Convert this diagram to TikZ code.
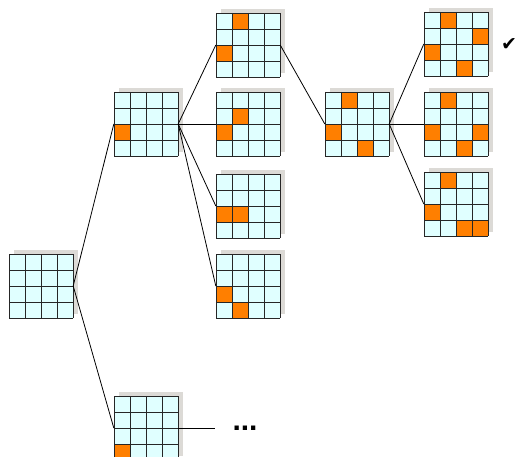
\documentclass[tikz,border=0pt]{standalone}
\usepackage{fontspec}
\newfontfamily\symfont{DejaVu Sans}
\newfontfamily\dotfont{Liberation Sans}
\definecolor{cellblue}{HTML}{E0FFFF}
\definecolor{queenorange}{HTML}{FF7F00}
\definecolor{shadowgray}{HTML}{DCDAD6}
\tikzset{
  board/.style={minimum size=64pt, inner sep=0pt, fill=cellblue},
  boardshadow/.style={fill=shadowgray},
  queen/.style={fill=queenorange},
  gridline/.style={line width=0.9pt, black!85},
  edge/.style={line width=0.8pt, black}
}
% one 4x4 board: name, left, top, queens as col/row
\newcommand{\qboard}[4]{%
  \fill[boardshadow] (#2+5,#3-4) rectangle ++(64,64);
  \node[board] (#1) at (#2+32,#3+32) {};
  \def\qlist{#4}%
  \ifx\qlist\empty\else
    \foreach \c/\r in {#4} \fill[queen] (#2+16*\c,#3+16*\r) rectangle ++(16,16);
  \fi
  \foreach \k in {0,16,...,64} {
    \draw[gridline] (#2+\k,#3) -- ++(0,64);
    \draw[gridline] (#2,#3+\k) -- ++(64,0);
  }
}
\begin{document}
\begin{tikzpicture}[x=1pt,y=-1pt]
    \useasboundingbox (0,0) rectangle (516,457);
    \clip (0,0) rectangle (516,457);
    % empty board
    \qboard{start}{9}{254}{}
    % first queen
    \qboard{one}{114}{92}{0/2}
    \qboard{onelow}{114}{396}{0/3}
    % second queen
    \qboard{twoa}{216}{13}{1/0,0/2}
    \qboard{twob}{216}{92}{1/1,0/2}
    \qboard{twoc}{216}{174}{0/2,1/2}
    \qboard{twod}{216}{254}{0/2,1/3}
    % third queen
    \qboard{three}{325}{92}{1/0,0/2,2/3}
    % fourth queen
    \qboard{foura}{424}{12}{1/0,3/1,0/2,2/3}
    \qboard{fourb}{424}{92}{1/0,0/2,3/2,2/3}
    \qboard{fourc}{424}{172}{1/0,0/2,2/3,3/3}
    % branches
    \draw[edge] (start.east) -- (one.west);
    \draw[edge] (start.east) -- (onelow.west);
    \foreach \n in {twoa,twob,twoc,twod}
        \draw[edge] (one.east) -- (\n.west);
    \draw[edge] (twoa.east) -- (three.west);
    \foreach \n in {foura,fourb,fourc}
        \draw[edge] (three.east) -- (\n.west);
    \coordinate (lowend) at (215,428);
    \draw[edge] (onelow.east) -- (lowend);
    \node (more) at (245,428) {\dotfont\bfseries\fontsize{30}{30}\selectfont ...};
    \node (solved) at (509,45) {\symfont\fontsize{19}{19}\selectfont ✔};
\end{tikzpicture}
\end{document}
